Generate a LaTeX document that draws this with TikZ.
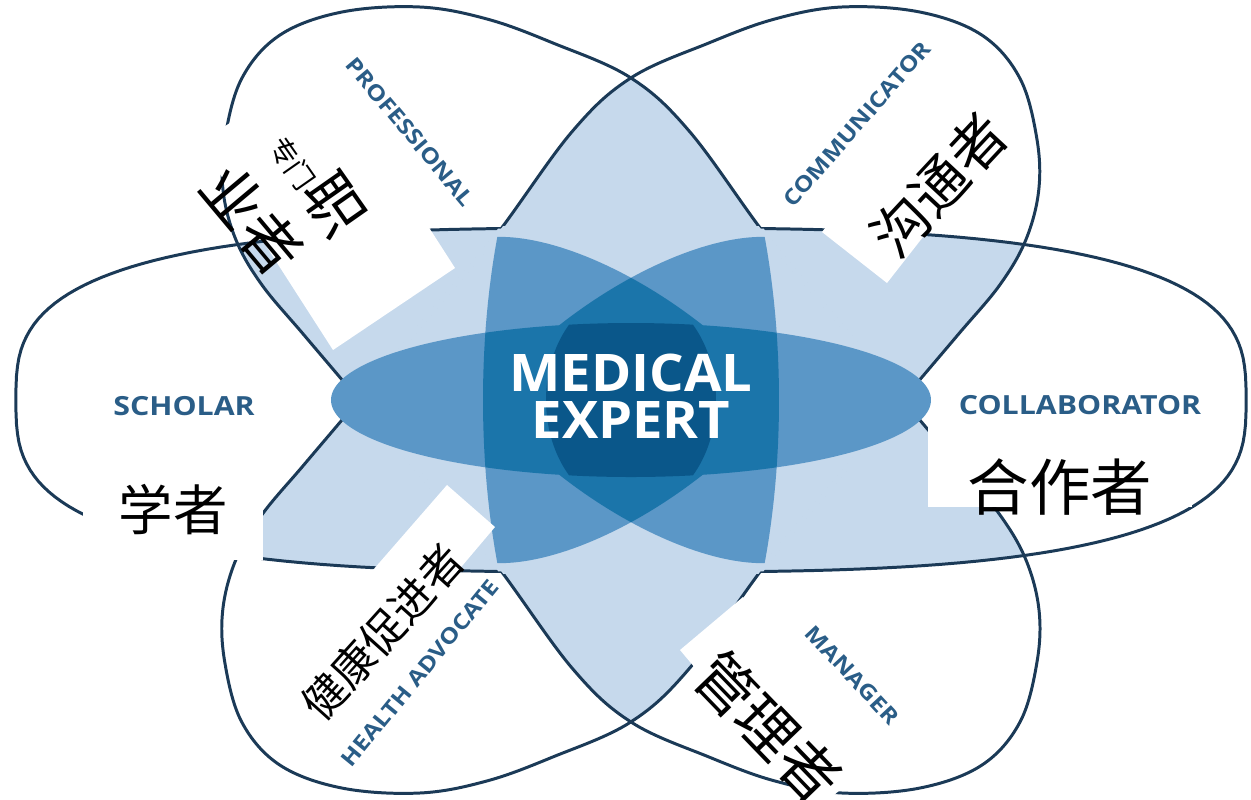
\documentclass[tikz,border=0pt]{standalone}
\usepackage{fontspec}
\setmainfont{Open Sans}
\newfontfamily\cjk{Noto Sans CJK SC}
\newfontfamily\rolefont{Open Sans}[FakeStretch=1.15]
\newfontfamily\corefont{Open Sans}[FakeStretch=1.05]
% superellipse with half axes #1, #2 and exponent 2/n = #3
\newcommand\blob[3]{plot[domain=1:359,samples=180,variable=\t]
  ({#1*sign(cos(\t))*pow(abs(cos(\t)),#3)},{#2*sign(sin(\t))*pow(abs(sin(\t)),#3)}) -- cycle}
% horizontal petal (Scholar - Collaborator)
\newcommand\Hshape{\blob{615}{172}{0.667}}
% diagonal petal (Professional - Manager); the other one is its mirror image
\newcommand\Pshape{plot[smooth cycle,tension=0.6] coordinates {
  (420,7) (487,19) (553,43) (631,78) (690,132) (767,237) (836,319) (903,400)
  (958,465) (1000,515) (1026,560) (1039,610) (1037,662) (1020,722) (982,765) (920,788)
  (842,793) (775,781) (709,757) (631,722) (572,668) (495,563) (426,481) (359,400)
  (304,335) (262,285) (236,240) (223,190) (225,138) (242,78) (280,35) (342,12)}}
\newcommand\Fshape{\blob{300}{77}{1}}
\newcommand\Ishape{\blob{235}{103}{1}}
\newcommand\Vshape{\blob{148}{380}{1}}
\newcommand\Zshape{\blob{85}{110}{1}}
\begin{document}
\begin{tikzpicture}[x=0.02cm,y=-0.02cm]
\definecolor{rim}{HTML}{1B3A57}
\definecolor{pale}{HTML}{C6D9EC}
\definecolor{mid}{HTML}{5B97C7}
\definecolor{deep}{HTML}{1B75AA}
\definecolor{core}{HTML}{0A578A}
\definecolor{ink}{HTML}{2A5D87}
\tikzset{
  hwrap/.style={shift={(631,400)}},
  cmirror/.style={xshift=25.24cm,xscale=-1},
  ipwrap/.style={shift={(631,400)},rotate=-36.8},
  icwrap/.style={shift={(631,400)},rotate=36.8},
  rimline/.style={draw=rim,line width=1.7pt},
  hideline/.style={draw=pale,line width=2.8pt},
  role/.style={text=ink,font=\rolefont\bfseries\fontsize{12.3}{12}\selectfont,inner sep=0pt},
  rolewide/.style={text=ink,font=\rolefont\bfseries\fontsize{15}{15}\selectfont,inner sep=0pt},
  han/.style={text=black,inner sep=0pt},
}
\useasboundingbox (0,0) rectangle (1251,799);
\clip (0,0) rectangle (1251,799);

% pairwise overlaps of the three petals
\begin{scope}
  \clip[hwrap]\Hshape;
  \fill[pale]\Pshape;
  \fill[pale,cmirror]\Pshape;
\end{scope}
\begin{scope}
  \clip\Pshape;
  \fill[pale,cmirror]\Pshape;
\end{scope}

% petal outlines
\path[rimline,hwrap]\Hshape;
\path[rimline]\Pshape;
\path[rimline,cmirror]\Pshape;

% outlines vanish where all three petals overlap
\begin{scope}
  \clip[hwrap]\Hshape; \clip\Pshape;
  \path[hideline,cmirror]\Pshape;
\end{scope}
\begin{scope}
  \clip[hwrap]\Hshape; \clip[cmirror]\Pshape;
  \path[hideline]\Pshape;
\end{scope}
\begin{scope}
  \clip\Pshape; \clip[cmirror]\Pshape;
  \path[hideline,hwrap]\Hshape;
\end{scope}

% central shading
\begin{scope}
  \clip[hwrap]\Hshape;
  \begin{scope}
    \clip[hwrap]\Vshape;
    \fill[mid,ipwrap]\Ishape;
    \fill[mid,icwrap]\Ishape;
  \end{scope}
  \fill[mid,hwrap]\Fshape;
  \begin{scope}
    \clip[hwrap]\Vshape; \clip[ipwrap]\Ishape;
    \fill[deep,icwrap]\Ishape;
  \end{scope}
  \begin{scope}
    \clip[hwrap]\Vshape;
    \fill[deep,hwrap]\Fshape;
  \end{scope}
  \begin{scope}
    \clip[hwrap]\Zshape;
    \fill[core,hwrap]\Fshape;
  \end{scope}
\end{scope}

\node[text=white,font=\corefont\bfseries\fontsize{29.5}{30}\selectfont,align=center,inner sep=0pt]
  (core) at (631,396) {MEDICAL\\[-3pt]EXPERT};

% white label patches
\fill[white] (200,143) -- (333,350) -- (455,268) -- (322,61) -- cycle;
\fill[white] (822,232) -- (887,283) -- (998,141) -- (933,90) -- cycle;
\fill[white] (83,465) rectangle (263,560);
\fill[white] (928,413) rectangle (1192,507);
\fill[white] (447,485) -- (495,527) -- (298,760) -- (245,717) -- cycle;
\fill[white] (680,650) -- (743,597) -- (878,758) -- (815,811) -- cycle;

% role names
\node[role,rotate=-50] (pro) at (410,132) {PROFESSIONAL};
\node[role,rotate=49] (com) at (857,124) {COMMUNICATOR};
\node[rolewide] (sch) at (184,406) {SCHOLAR};
\node[rolewide] (col) at (1080,405) {COLLABORATOR};
\node[role,rotate=50.7] (hea) at (420,673) {HEALTH ADVOCATE};
\node[role,rotate=-47] (man) at (852,675) {MANAGER};

% Chinese names
\node[han,rotate=-55,font=\cjk\fontsize{34}{34}\selectfont] (zh1) at (318,182) {{\fontsize{16}{16}\selectfont 专门}职};
\node[han,rotate=-50,font=\cjk\fontsize{34}{34}\selectfont] (zh2) at (252,220) {业者};
\node[han,rotate=47,font=\cjk\fontsize{32}{32}\selectfont] (zh3) at (939,185) {沟通者};
\node[han,font=\cjk\fontsize{31}{31}\selectfont] (zh4) at (173,510) {学者};
\node[han,font=\cjk\fontsize{35}{35}\selectfont] (zh5) at (1060,487) {合作者};
\node[han,rotate=48,font=\cjk\fontsize{24.7}{25}\selectfont] (zh6) at (383,632) {健康促进者};
\node[han,rotate=-46,font=\cjk\fontsize{34}{34}\selectfont] (zh7) at (768,727) {管理者};
\end{tikzpicture}
\end{document}
